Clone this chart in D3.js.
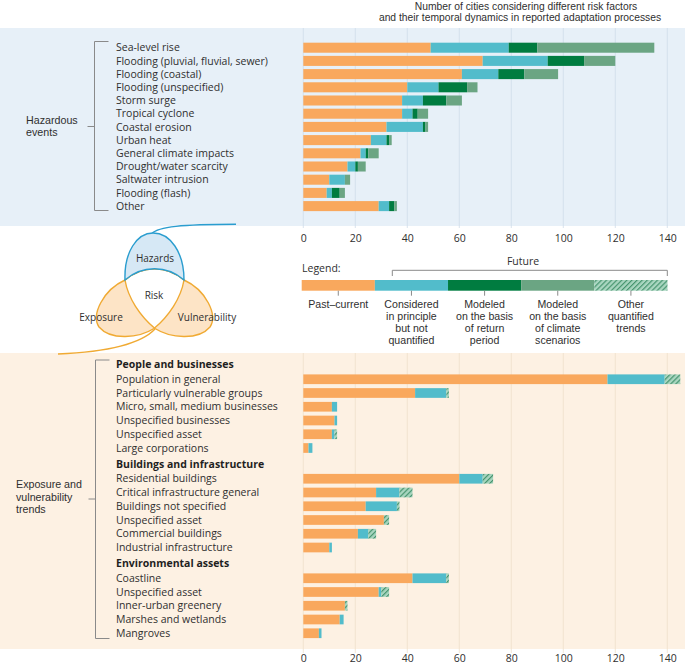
<!DOCTYPE html>
<html>
<head>
<meta charset="utf-8">
<script src="https://cdn.jsdelivr.net/npm/d3@7"></script>
<style>
  body { margin: 0; background: #fff; }
  svg { display: block; font-family: "Open Sans", sans-serif; }
  .tight { font-family: "Liberation Sans", Arial, sans-serif; }
</style>
</head>
<body>
<script>
// hazards (top panel)
const hazards = ["Sea-level rise", "Flooding (pluvial, fluvial, sewer)", "Flooding (coastal)", "Flooding (unspecified)",
    "Storm surge", "Tropical cyclone", "Coastal erosion", "Urban heat", "General climate impacts",
    "Drought/water scarcity", "Saltwater intrusion", "Flooding (flash)", "Other"];
const hazPast = [49, 69, 61, 40, 38, 38, 32, 26, 22, 17, 10, 9, 29];
const hazConsidered = [30, 25, 14, 12, 8, 4, 14, 6, 2, 3, 6, 2, 4];
const hazReturnPeriod = [11, 14, 10, 11, 9, 2, 1, 1, 1, 1, 0, 3, 2];
const hazScenarios = [45, 12, 13, 4, 6, 4, 1, 1, 4, 3, 2, 2, 1];

// exposure and vulnerability (bottom panel)
const expGroups = ["People and businesses", "Buildings and infrastructure", "Environmental assets"];
const expLabels = ["Population in general", "Particularly vulnerable groups", "Micro, small, medium businesses",
    "Unspecified businesses", "Unspecified asset", "Large corporations",
    "Residential buildings", "Critical infrastructure general", "Buildings not specified",
    "Unspecified asset", "Commercial buildings", "Industrial infrastructure",
    "Coastline", "Unspecified asset", "Inner-urban greenery", "Marshes and wetlands", "Mangroves"];
const expGroupOf = [0, 0, 0, 0, 0, 0, 1, 1, 1, 1, 1, 1, 2, 2, 2, 2, 2];
const expPast = [117, 43, 11, 12, 11, 2, 60, 28, 24, 31, 21, 10, 42, 29, 16, 14, 6];
const expConsidered = [22, 12, 2, 1, 1, 1.5, 9, 9, 12, 0, 4, 1, 13, 1, 0, 1.5, 1];
const expOther = [6, 1, 0, 0, 1, 0, 4, 5, 1, 2, 3, 0, 1, 3, 1, 0, 0];

const ticks = [0, 20, 40, 60, 80, 100, 120, 140];
const legendKeys = ["past", "considered", "returnPeriod", "scenarios", "other"];
const legendLabels = [["Past\u2013current"], ["Considered", "in principle", "but not", "quantified"],
    ["Modeled", "on the basis", "of return", "period"], ["Modeled", "on the basis", "of climate", "scenarios"],
    ["Other", "quantified", "trends"]];
const titleLines = ["Number of cities considering different risk factors",
    "and their temporal dynamics in reported adaptation processes"];

(() => {
    const width = 685;
    const height = 664;
    const textColor = "#2f2f2f";

    const svg = d3.select("body").append("svg")
        .attr("width", width)
        .attr("height", height);

    const defs = svg.append("defs");
    const hatch = defs.append("pattern")
        .attr("id", "hatch")
        .attr("patternUnits", "userSpaceOnUse")
        .attr("width", 3.6)
        .attr("height", 3.6)
        .attr("patternTransform", "rotate(45)");
    hatch.append("rect").attr("width", 3.6).attr("height", 3.6).attr("fill", "#a9d6c0");
    hatch.append("line").attr("x1", 0.6).attr("x2", 0.6).attr("y1", 0).attr("y2", 3.6)
        .attr("stroke", "#3e8f68").attr("stroke-width", 1.1);

    const color = d3.scaleOrdinal()
        .domain(legendKeys)
        .range(["#f9a85d", "#52bccb", "#007c40", "#6ba583", "url(#hatch)"]);

    const x = d3.scaleLinear()
        .domain([0, 140])
        .range([303.3, 667.3]);

    // panels
    svg.append("rect").attr("x", 0).attr("y", 28).attr("width", width).attr("height", 198).attr("fill", "#e7f0f8");
    svg.append("rect").attr("x", 0).attr("y", 353).attr("width", width).attr("height", 296).attr("fill", "#fdf1e3");

    // title
    svg.append("g")
        .attr("class", "tight")
        .selectAll("text")
        .data(titleLines)
        .enter()
        .append("text")
        .attr("x", (d, i) => i ? 520 : 526)
        .attr("y", (d, i) => 9.8 + i * 11.5)
        .attr("text-anchor", "middle")
        .attr("font-size", 10.3)
        .attr("fill", textColor)
        .text(d => d);

    const grid = (top, bottom, stroke) => {
        svg.append("g")
            .selectAll("line")
            .data(ticks)
            .enter()
            .append("line")
            .attr("x1", d => x(d)).attr("x2", d => x(d))
            .attr("y1", top).attr("y2", bottom)
            .attr("stroke", stroke)
            .attr("stroke-width", 0.8);
    };

    const axis = (yPos) => {
        const g = svg.append("g")
            .attr("transform", `translate(0, ${yPos})`)
            .call(d3.axisBottom(x).tickValues(ticks).tickSize(0).tickPadding(3));
        g.select(".domain").remove();
        g.attr("font-family", null).attr("font-size", 10.5);
        g.selectAll("text").attr("fill", textColor);
    };

    const bracket = (x0, top, bottom, mid, labelLines, labelX, labelY, lineH) => {
        const g = svg.append("g").attr("fill", "none").attr("stroke", "#8a8a8a").attr("stroke-width", 1);
        g.append("path").attr("d", `M${x0 + 14},${top}H${x0}V${bottom}H${x0 + 14}`);
        g.append("path").attr("d", `M${x0 - 7},${mid}H${x0}`);
        svg.append("g")
            .attr("class", "tight")
            .selectAll("text")
            .data(labelLines)
            .enter()
            .append("text")
            .attr("x", labelX)
            .attr("y", (d, i) => labelY + i * lineH)
            .attr("font-size", 10.7)
            .attr("fill", textColor)
            .text(d => d);
    };

    // ---------- hazards ----------
    grid(28, 228, "#d0dde9");

    const yTop = d3.scaleBand()
        .domain(d3.range(hazards.length))
        .range([41.1, 41.1 + hazards.length * 13.2])
        .paddingInner(0.24)
        .paddingOuter(0.12);

    const hazRows = hazards.map((d, i) => ({
        i, label: d,
        past: hazPast[i], considered: hazConsidered[i], returnPeriod: hazReturnPeriod[i], scenarios: hazScenarios[i]
    }));
    const hazStack = d3.stack().keys(["past", "considered", "returnPeriod", "scenarios"])(hazRows);

    svg.append("g")
        .selectAll("g")
        .data(hazStack)
        .enter()
        .append("g")
        .attr("fill", d => color(d.key))
        .selectAll("rect")
        .data(d => d)
        .enter()
        .append("rect")
        .attr("x", d => x(d[0]))
        .attr("width", d => x(d[1]) - x(d[0]))
        .attr("y", d => yTop(d.data.i))
        .attr("height", yTop.bandwidth());

    svg.append("g")
        .selectAll("text")
        .data(hazRows)
        .enter()
        .append("text")
        .attr("x", 116)
        .attr("y", d => yTop(d.i) + yTop.bandwidth() / 2)
        .attr("dy", "0.35em")
        .attr("font-size", 10.5)
        .attr("fill", textColor)
        .text(d => d.label);

    bracket(94.5, 41.5, 210.5, 126.5, ["Hazardous", "events"], 26, 123.5, 12.1);

    axis(231.5);

    // ---------- venn ----------
    const venn = svg.append("g").attr("stroke-width", 1.4);
    const topArc = "C175,272 165,268.7 154.5,268.7 C144,268.7 134,272 125,280";
    const vPath = `M125,280 C128,298 140,316 155,328.5 C170,338 198,341 210,327 C218,315 206,290 184,280 ${topArc}Z`;
    const ePath = "M184,280 C181,298 169,316 154,328.5 C139,338 111,341 99,327 C91,315 103,290 125,280 " +
        "C134,272 144,268.7 154.5,268.7 C165,268.7 175,272 184,280Z";
    const riskPath = `M125,280 C128,298 140,316 155,328.5 C169,316 181,298 184,280 ${topArc}Z`;
    const hazPath = `M125,280 C124,252 137,233 153,233 C170,233 184,252 184,280 ${topArc}Z`;

    venn.append("path").attr("d", "M152,233.5 C158,226.5 182,224.5 236,224.3").attr("fill", "none").attr("stroke", "#2a9dcf");
    venn.append("path").attr("d", "M155,329 C140,345 105,352 58,354").attr("fill", "none").attr("stroke", "#f0aa33");
    venn.append("path").attr("d", ePath).attr("fill", "#fde4c6").attr("stroke", "none");
    venn.append("path").attr("d", vPath).attr("fill", "#fde4c6").attr("stroke", "none");
    venn.append("path").attr("d", riskPath).attr("fill", "#fff").attr("stroke", "none");
    venn.append("path").attr("d", ePath).attr("fill", "none").attr("stroke", "#f0aa33");
    venn.append("path").attr("d", vPath).attr("fill", "none").attr("stroke", "#f0aa33");
    venn.append("path").attr("d", hazPath).attr("fill", "#d6e8f5").attr("stroke", "#2a9dcf");

    const vennLabels = [["Hazards", 155, 262], ["Risk", 154, 299], ["Exposure", 101, 321], ["Vulnerability", 207, 321]];
    svg.append("g")
        .selectAll("text")
        .data(vennLabels)
        .enter()
        .append("text")
        .attr("x", d => d[1])
        .attr("y", d => d[2])
        .attr("text-anchor", "middle")
        .attr("font-size", 10)
        .attr("fill", textColor)
        .text(d => d[0]);

    // ---------- legend ----------
    const xLeg = d3.scaleBand().domain(legendKeys).range([301.7, 667.5]);
    const legend = svg.append("g");

    legend.append("text").attr("x", 302).attr("y", 271.5).attr("font-size", 10.5).attr("fill", textColor).text("Legend:");
    legend.append("text").attr("x", 523).attr("y", 264.5).attr("text-anchor", "middle")
        .attr("font-size", 10.5).attr("fill", textColor).text("Future");
    legend.append("path")
        .attr("d", `M392.3,276V270.3H667.3V276`)
        .attr("fill", "none").attr("stroke", "#8a8a8a");

    legend.selectAll("rect")
        .data(legendKeys)
        .enter()
        .append("rect")
        .attr("x", d => xLeg(d))
        .attr("width", xLeg.bandwidth())
        .attr("y", 280)
        .attr("height", 10.7)
        .attr("fill", d => color(d));

    legend.selectAll("line.tick")
        .data(legendKeys)
        .enter()
        .append("line")
        .attr("class", "tick")
        .attr("x1", d => xLeg(d) + xLeg.bandwidth() / 2)
        .attr("x2", d => xLeg(d) + xLeg.bandwidth() / 2)
        .attr("y1", 290.7).attr("y2", 295.7)
        .attr("stroke", "#8a8a8a");

    legend.selectAll("text.lbl")
        .data(legendKeys)
        .enter()
        .append("text")
        .attr("class", "lbl tight")
        .attr("text-anchor", "middle")
        .attr("font-size", 10.6)
        .attr("fill", textColor)
        .selectAll("tspan")
        .data((d, i) => legendLabels[i].map(t => ({ t, key: d })))
        .enter()
        .append("tspan")
        .attr("x", d => xLeg(d.key) + xLeg.bandwidth() / 2)
        .attr("y", (d, i) => 307.8 + i * 11.9)
        .text(d => d.t);

    // ---------- exposure ----------
    grid(353, 653, "#efdfcb");

    const expRows = [];
    const headers = [];
    let yCur = 364.5;
    expLabels.forEach((label, i) => {
        const g = expGroupOf[i];
        if (i === 0 || g !== expGroupOf[i - 1]) {
            if (i > 0) yCur += 16;
            headers.push({ label: expGroups[g], y: yCur });
            yCur += 14.75;
        } else {
            yCur += 13.75;
        }
        expRows.push({ i, label, y: yCur, past: expPast[i], considered: expConsidered[i], other: expOther[i] });
    });
    const barH = 9.7;

    const expStack = d3.stack().keys(["past", "considered", "other"])(expRows);

    svg.append("g")
        .selectAll("g")
        .data(expStack)
        .enter()
        .append("g")
        .attr("fill", d => color(d.key))
        .selectAll("rect")
        .data(d => d)
        .enter()
        .append("rect")
        .attr("x", d => x(d[0]))
        .attr("width", d => x(d[1]) - x(d[0]))
        .attr("y", d => d.data.y - barH / 2)
        .attr("height", barH);

    svg.append("g")
        .selectAll("text")
        .data(expRows)
        .enter()
        .append("text")
        .attr("x", 116)
        .attr("y", d => d.y)
        .attr("dy", "0.35em")
        .attr("font-size", 10.5)
        .attr("fill", textColor)
        .text(d => d.label);

    svg.append("g")
        .selectAll("text")
        .data(headers)
        .enter()
        .append("text")
        .attr("x", 116)
        .attr("y", d => d.y)
        .attr("dy", "0.35em")
        .attr("font-size", 10.5)
        .attr("font-weight", "bold")
        .attr("fill", "#1f1f1f")
        .text(d => d.label);

    bracket(95.5, 360, 638.5, 499, ["Exposure and", "vulnerability", "trends"], 16, 488, 12.6);

    axis(651.5);
})();
</script>
</body>
</html>
